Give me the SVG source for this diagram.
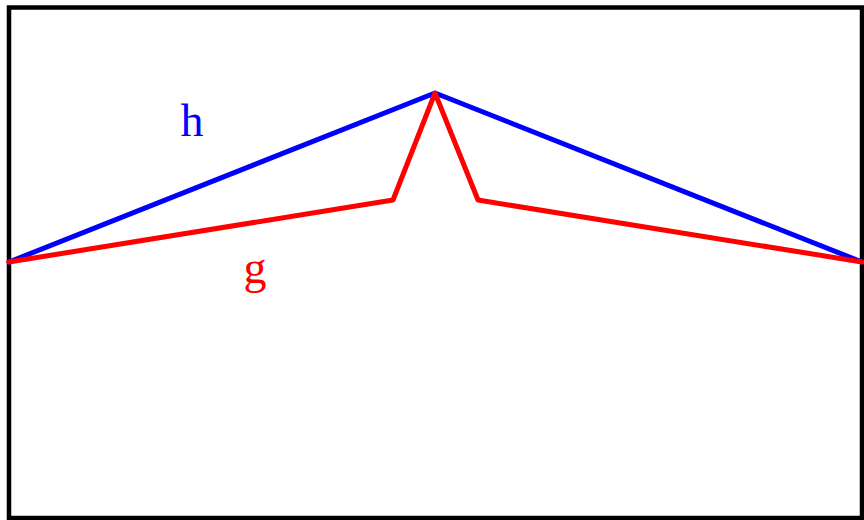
<svg xmlns="http://www.w3.org/2000/svg" width="864" height="520" viewBox="0 0 864 520">
<style>
.frame{fill:none;stroke:#000;stroke-width:4.5}
.line{fill:none;stroke-width:5;stroke-linejoin:round;stroke-linecap:round}
.lbl{font-family:"Liberation Serif","DejaVu Serif",serif;font-size:46px;text-anchor:middle}
</style>
<rect x="0" y="0" width="864" height="520" fill="#fff"/>
<rect class="frame" x="9" y="7.5" width="853" height="510.5"/>
<g id="connectors">
<polyline id="h-curve" class="line" stroke="#0000ff" points="9,262 435,93 862,262"/>
<polyline id="g-curve" class="line" stroke="#ff0000" points="9,262 393,200 435,93 478,200 862,262"/>
</g>
<g id="label-h"><text class="lbl" x="192" y="136" fill="#0000ff">h</text></g>
<g id="label-g"><text class="lbl" x="255" y="283" fill="#ff0000">g</text></g>
</svg>
